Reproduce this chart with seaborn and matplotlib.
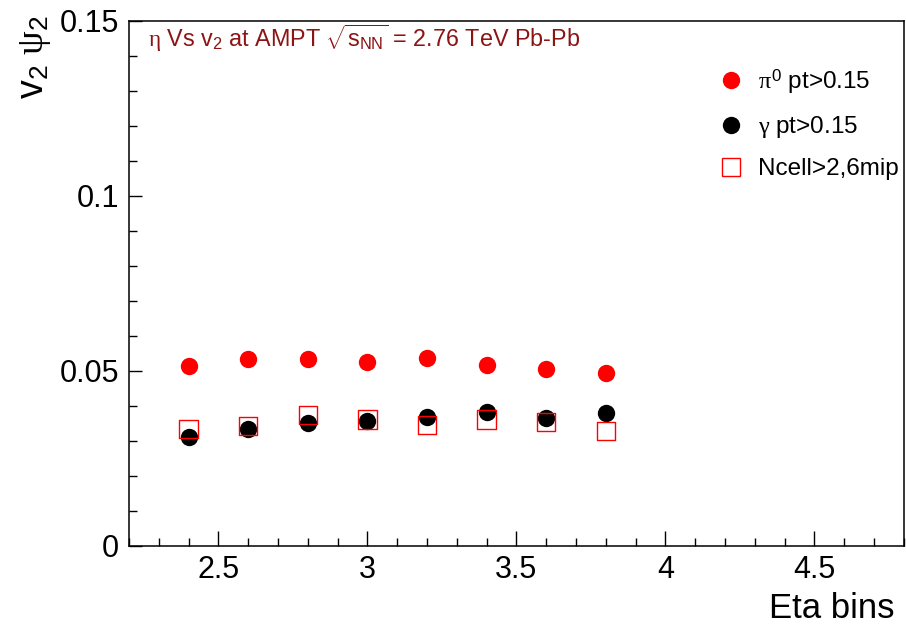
import numpy as np
import pandas as pd
import matplotlib
matplotlib.use("Agg")
import matplotlib.pyplot as plt
from matplotlib.lines import Line2D
from matplotlib.ticker import MultipleLocator
import seaborn as sns

# ---- data ----
eta = [2.4, 2.6, 2.8, 3.0, 3.2, 3.4, 3.6, 3.8]
v2_pi0 = [0.0515, 0.0534, 0.0535, 0.0524, 0.0536, 0.0517, 0.0504, 0.0495]
v2_gamma = [0.0312, 0.0334, 0.0350, 0.0357, 0.0369, 0.0381, 0.0365, 0.0380]
v2_ncell = [0.0333, 0.0343, 0.0373, 0.0361, 0.0345, 0.0361, 0.0354, 0.0328]
labels = [r"$\pi^{0}$ pt>0.15", r"$\gamma$ pt>0.15", "Ncell>2,6mip"]
title_text = r"$\eta$ Vs v$_{2}$ at AMPT $\sqrt{\mathrm{s}_{\mathrm{NN}}}$ = 2.76 TeV Pb-Pb"

sns.set_style("white")
plt.rcParams["font.family"] = ["Liberation Sans", "DejaVu Sans"]
plt.rcParams["mathtext.fontset"] = "custom"
plt.rcParams["mathtext.rm"] = "Liberation Sans"
plt.rcParams["mathtext.it"] = "Liberation Serif"
plt.rcParams["mathtext.bf"] = "Liberation Sans:bold"
for key in ["text.color", "axes.labelcolor", "xtick.color", "ytick.color",
            "axes.edgecolor"]:
    plt.rcParams[key] = "black"

fig = plt.figure(figsize=(9.06, 6.26), dpi=100)
ax = fig.add_axes([0.1424, 0.1283, 0.9975 - 0.1424, 0.9665 - 0.1283])

df = pd.DataFrame({"eta": eta, "pi0": v2_pi0, "gamma": v2_gamma, "ncell": v2_ncell})
ms = 12.5
sns.scatterplot(data=df, x="eta", y="pi0", ax=ax, color="#ff0000", marker="o",
                s=ms**2, linewidth=0, zorder=3)
sns.scatterplot(data=df, x="eta", y="gamma", ax=ax, color="#000000", marker="o",
                s=ms**2, linewidth=0, zorder=3)
sns.scatterplot(data=df, x="eta", y="ncell", ax=ax, color="#ff0000", marker="s",
                s=(ms * 1.05)**2, facecolors="none", edgecolor="#ff0000",
                linewidth=1.0, zorder=4)

ax.set_xlim(2.2, 4.8)
ax.set_ylim(0, 0.15)
ax.xaxis.set_minor_locator(MultipleLocator(0.1))
ax.yaxis.set_minor_locator(MultipleLocator(0.01))
ax.set_xticks([2.5, 3, 3.5, 4, 4.5])
ax.set_xticklabels(["2.5", "3", "3.5", "4", "4.5"])
ax.set_yticks([0, 0.05, 0.1, 0.15])
ax.set_yticklabels(["0", "0.05", "0.1", "0.15"])

ax.tick_params(axis="x", which="major", direction="in", length=11, width=1,
               labelsize=22, pad=7, bottom=True, top=False, colors="black")
ax.tick_params(axis="x", which="minor", direction="in", length=5.5, width=1,
               bottom=True, top=False, colors="black")
ax.tick_params(axis="y", which="major", direction="in", length=9, width=1,
               labelsize=22, pad=7, left=True, right=False, colors="black")
ax.tick_params(axis="y", which="minor", direction="in", length=6, width=1,
               left=True, right=False, colors="black")
for sp in ax.spines.values():
    sp.set_visible(True)
    sp.set_color("black")
    sp.set_linewidth(1.1)

ax.set_xlabel("Eta bins", fontsize=25, loc="right", color="black")
ax.xaxis.set_label_coords(0.988, -0.088)
ax.set_ylabel(r"v$_{2}$ $\psi_{2}$", fontsize=27, loc="top", color="black")
ax.yaxis.set_label_coords(-0.098, 1.012)

ax.text(0.0245, 0.9676, title_text, transform=ax.transAxes, fontsize=16.8,
        color="#8c1414", va="center", ha="left")

handles = [
    Line2D([], [], linestyle="none", marker="o", markersize=ms, color="#ff0000",
           markeredgewidth=0),
    Line2D([], [], linestyle="none", marker="o", markersize=ms,
           color="#000000", markeredgewidth=0),
    Line2D([], [], linestyle="none", marker="s", markersize=ms * 1.05,
           markerfacecolor="none", markeredgecolor="#ff0000", markeredgewidth=1.0),
]
leg = ax.legend(handles, labels, loc="upper left", bbox_to_anchor=(0.758, 0.912),
                frameon=False, fontsize=17.5, handlelength=1.2, handletextpad=0.5,
                labelspacing=0.75, borderaxespad=0, borderpad=0)
for t in leg.get_texts():
    t.set_color("black")

fig.savefig("out.png", dpi=100)
